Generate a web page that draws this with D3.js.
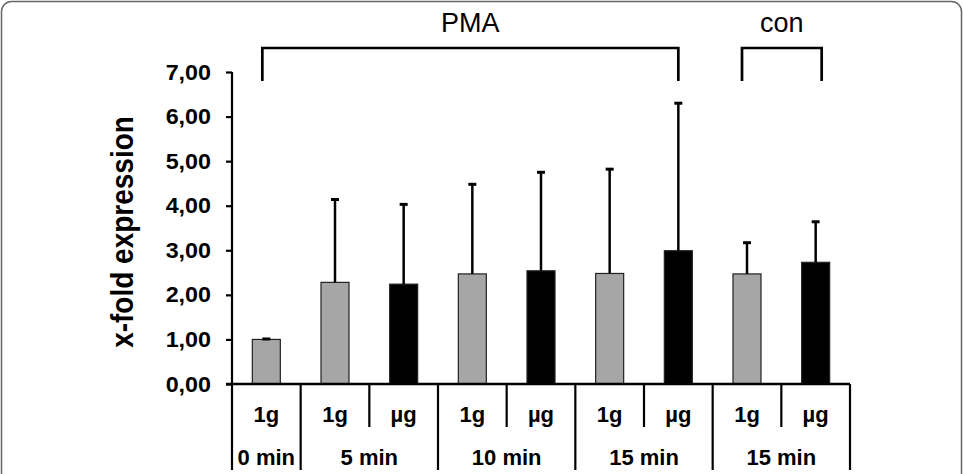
<!DOCTYPE html>
<html>
<head>
<meta charset="utf-8">
<script src="https://cdn.jsdelivr.net/npm/d3@7"></script>
<style>
  body { margin: 0; background: #fff; }
  text { font-family: Arial, "Liberation Sans", sans-serif; }
</style>
</head>
<body>
<script>
// data
const doses = ["1g", "1g", "µg", "1g", "µg", "1g", "µg", "1g", "µg"];
const times = ["0 min", "5 min", "10 min", "15 min", "15 min"];
const timeSpans = [1, 2, 2, 2, 2];
const means = [1.00, 2.28, 2.24, 2.47, 2.54, 2.48, 2.99, 2.47, 2.73];
const sds = [0.01, 1.86, 1.79, 2.01, 2.21, 2.34, 3.31, 0.70, 0.91];
const yTicks = [0, 1, 2, 3, 4, 5, 6, 7];
const brackets = [
  { label: "PMA", from: 0, to: 6 },
  { label: "con", from: 7, to: 8 }
];

const W = 963, H = 474;
const baseY = 384, topY = 72, tableBottom = 470, innerBottom = 427;

const svg = d3.select("body").append("svg")
  .attr("width", W)
  .attr("height", H);

// frame
svg.append("rect")
  .attr("x", 1.5).attr("y", 1.5)
  .attr("width", W - 3).attr("height", H + 20)
  .attr("rx", 10)
  .attr("fill", "none")
  .attr("stroke", "#666")
  .attr("stroke-width", 1.5);

const x = d3.scaleBand()
  .domain(d3.range(doses.length))
  .range([232, 850])
  .padding(0);

const y = d3.scaleLinear()
  .domain([0, 7])
  .range([baseY, topY]);

const color = d3.scaleOrdinal().domain(["1g", "µg"]).range(["#a6a6a6", "#000"]);
const barW = 28;
const cx = (i) => x(i) + x.bandwidth() / 2;

// y axis
const yAxis = svg.append("g")
  .attr("transform", `translate(${x.range()[0]},0)`)
  .call(d3.axisLeft(y)
    .tickValues(yTicks)
    .tickSize(6)
    .tickSizeOuter(0)
    .tickPadding(15)
    .tickFormat((d) => d.toFixed(2).replace(".", ",")));

yAxis.select(".domain").remove();
yAxis.selectAll(".tick line").attr("stroke", "#000").attr("stroke-width", 2.2);
yAxis.selectAll(".tick text")
  .attr("fill", "#000")
  .attr("x", 0)
  .attr("transform", "translate(-21,0) scale(1.06,1)")
  .style("font-family", "Arial, 'Liberation Sans', sans-serif")
  .style("font-size", "22px")
  .style("font-weight", "bold");

// y label
svg.append("text")
  .attr("transform", `translate(133,${(baseY + 80) / 2}) scale(1.1,1) rotate(-90)`)
  .attr("text-anchor", "middle")
  .style("font-size", "28px")
  .style("font-weight", "bold")
  .text("x-fold expression");

// bars
svg.append("g")
  .selectAll("rect")
  .data(means)
  .join("rect")
  .attr("x", (d, i) => cx(i) - barW / 2)
  .attr("y", (d) => y(d))
  .attr("width", barW)
  .attr("height", (d) => baseY - y(d))
  .attr("fill", (d, i) => color(doses[i]))
  .attr("stroke", "#222")
  .attr("stroke-width", 1.2);

// error bars (upper only)
const err = svg.append("g").attr("stroke", "#000");
err.selectAll("line.stem")
  .data(means)
  .join("line")
  .attr("class", "stem")
  .attr("x1", (d, i) => cx(i))
  .attr("x2", (d, i) => cx(i))
  .attr("y1", (d) => y(d))
  .attr("y2", (d, i) => y(d + sds[i]))
  .attr("stroke-width", 2.5);
err.selectAll("line.cap")
  .data(means)
  .join("line")
  .attr("class", "cap")
  .attr("x1", (d, i) => cx(i) - 4)
  .attr("x2", (d, i) => cx(i) + 4)
  .attr("y1", (d, i) => y(d + sds[i]))
  .attr("y2", (d, i) => y(d + sds[i]))
  .attr("stroke-width", 3);

// table under the axis
const table = svg.append("g").attr("stroke", "#000").attr("stroke-width", 2.2);
table.append("line")
  .attr("x1", x.range()[0] - 6).attr("x2", x.range()[1])
  .attr("y1", baseY).attr("y2", baseY)
  .attr("stroke-width", 2.6);

// group boundaries
let groupEdges = [0];
timeSpans.forEach((s) => groupEdges.push(groupEdges[groupEdges.length - 1] + s));
const edgeX = (k) => (k < doses.length ? x(k) : x.range()[1]);

d3.range(doses.length + 1).forEach((k) => {
  const full = groupEdges.includes(k);
  table.append("line")
    .attr("x1", edgeX(k)).attr("x2", edgeX(k))
    .attr("y1", k === 0 ? y(7) : baseY)
    .attr("y2", full ? tableBottom : innerBottom);
});

svg.append("g")
  .selectAll("text")
  .data(doses)
  .join("text")
  .attr("x", (d, i) => cx(i))
  .attr("y", 422)
  .attr("text-anchor", "middle")
  .style("font-size", "22px")
  .style("font-weight", "bold")
  .text((d) => d);

svg.append("g")
  .selectAll("text")
  .data(times)
  .join("text")
  .attr("x", (d, i) => (edgeX(groupEdges[i]) + edgeX(groupEdges[i + 1])) / 2)
  .attr("y", 465)
  .attr("text-anchor", "middle")
  .style("font-size", "22px")
  .style("font-weight", "bold")
  .text((d) => d);

// brackets on top
const bTop = 48, bBottom = 81;
brackets.forEach((b) => {
  const x0 = b.label === "PMA" ? cx(b.from) - 4 : cx(b.from) - 5;
  const x1 = b.label === "PMA" ? cx(b.to) : cx(b.to) + 6;
  svg.append("path")
    .attr("d", `M${x0},${bBottom}V${bTop}H${x1}V${bBottom}`)
    .attr("fill", "none")
    .attr("stroke", "#000")
    .attr("stroke-width", 2.7);
  svg.append("text")
    .attr("x", (x0 + x1) / 2)
    .attr("y", 32)
    .attr("text-anchor", "middle")
    .style("font-size", "27px")
    .text(b.label);
});
</script>
</body>
</html>
